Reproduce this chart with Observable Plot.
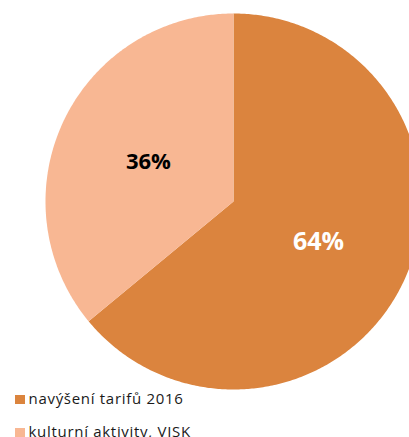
<!DOCTYPE html>
<html>
<head>
<meta charset="utf-8">
<script src="https://cdn.jsdelivr.net/npm/d3@7"></script>
<script src="https://cdn.jsdelivr.net/npm/@observablehq/plot@0.6"></script>
<style>
  html, body { margin: 0; padding: 0; background: #fff; }
  #wrap { position: relative; width: 409px; height: 437px; overflow: hidden; font-family: "Open Sans", sans-serif; }
  .item { position: absolute; left: 15px; font-size: 15px; letter-spacing: 0.7px; color: #1a1a1a; line-height: 15px; white-space: nowrap; }
  .sw { position: absolute; left: 0; width: 10px; height: 9px; }
  .lbl { position: absolute; left: 13.5px; top: 0; }
</style>
</head>
<body>
<div id="wrap"><div id="chart"></div></div>
<script>
const categories = ["navýšení tarifů 2016", "kulturní aktivity, VISK"];
const values = [64, 36];
const colors = ["#DB843E", "#F8B793"];
const labelColors = ["#ffffff", "#000000"];

const W = 409, H = 392, CX = 233, CY = 201, R = 188;

const arcs = d3.pie().sort(null).value(d => d.value)(
  categories.map((name, i) => ({name, value: values[i], i}))
);

// polygon outlines for slices (angles measured clockwise from 12 o'clock)
const poly = [];
for (const a of arcs) {
  poly.push({name: a.data.name, x: 0, y: 0});
  const n = Math.max(2, Math.ceil((a.endAngle - a.startAngle) / 0.01));
  for (let k = 0; k <= n; k++) {
    const t = a.startAngle + (a.endAngle - a.startAngle) * k / n;
    poly.push({name: a.data.name, x: Math.sin(t), y: Math.cos(t)});
  }
  poly.push({name: a.data.name, x: 0, y: 0});
}

const labels = arcs.map(a => {
  const m = (a.startAngle + a.endAngle) / 2;
  return {x: 0.5 * Math.sin(m), y: 0.5 * Math.cos(m), text: a.data.value + "%", i: a.data.i};
});

const chart = Plot.plot({
  width: W, height: H,
  margin: 0,
  x: {domain: [-CX / R, (W - CX) / R], axis: null},
  y: {domain: [-(H - CY) / R, CY / R], axis: null},
  color: {domain: categories, range: colors},
  style: {fontFamily: "'Open Sans', sans-serif", background: "white"},
  marks: [
    Plot.line(poly, {x: "x", y: "y", z: "name", fill: "name", stroke: null, curve: "linear"}),
    Plot.text(labels.filter(d => d.i === 0), {x: "x", y: "y", text: "text", fill: labelColors[0], fontSize: 25, fontWeight: "bold"}),
    Plot.text(labels.filter(d => d.i === 1), {x: "x", y: "y", text: "text", fill: labelColors[1], fontSize: 22, fontWeight: "bold"})
  ]
});
document.getElementById("chart").appendChild(chart);

const wrap = document.getElementById("wrap");
const tops = [391, 424];
categories.forEach((c, i) => {
  const it = document.createElement("div");
  it.className = "item";
  it.style.top = tops[i] + "px";
  const sw = document.createElement("div");
  sw.className = "sw";
  sw.style.background = colors[i];
  sw.style.top = "4px";
  const lb = document.createElement("span");
  lb.className = "lbl";
  lb.textContent = c;
  it.appendChild(sw); it.appendChild(lb);
  wrap.appendChild(it);
});
</script>
</body>
</html>
